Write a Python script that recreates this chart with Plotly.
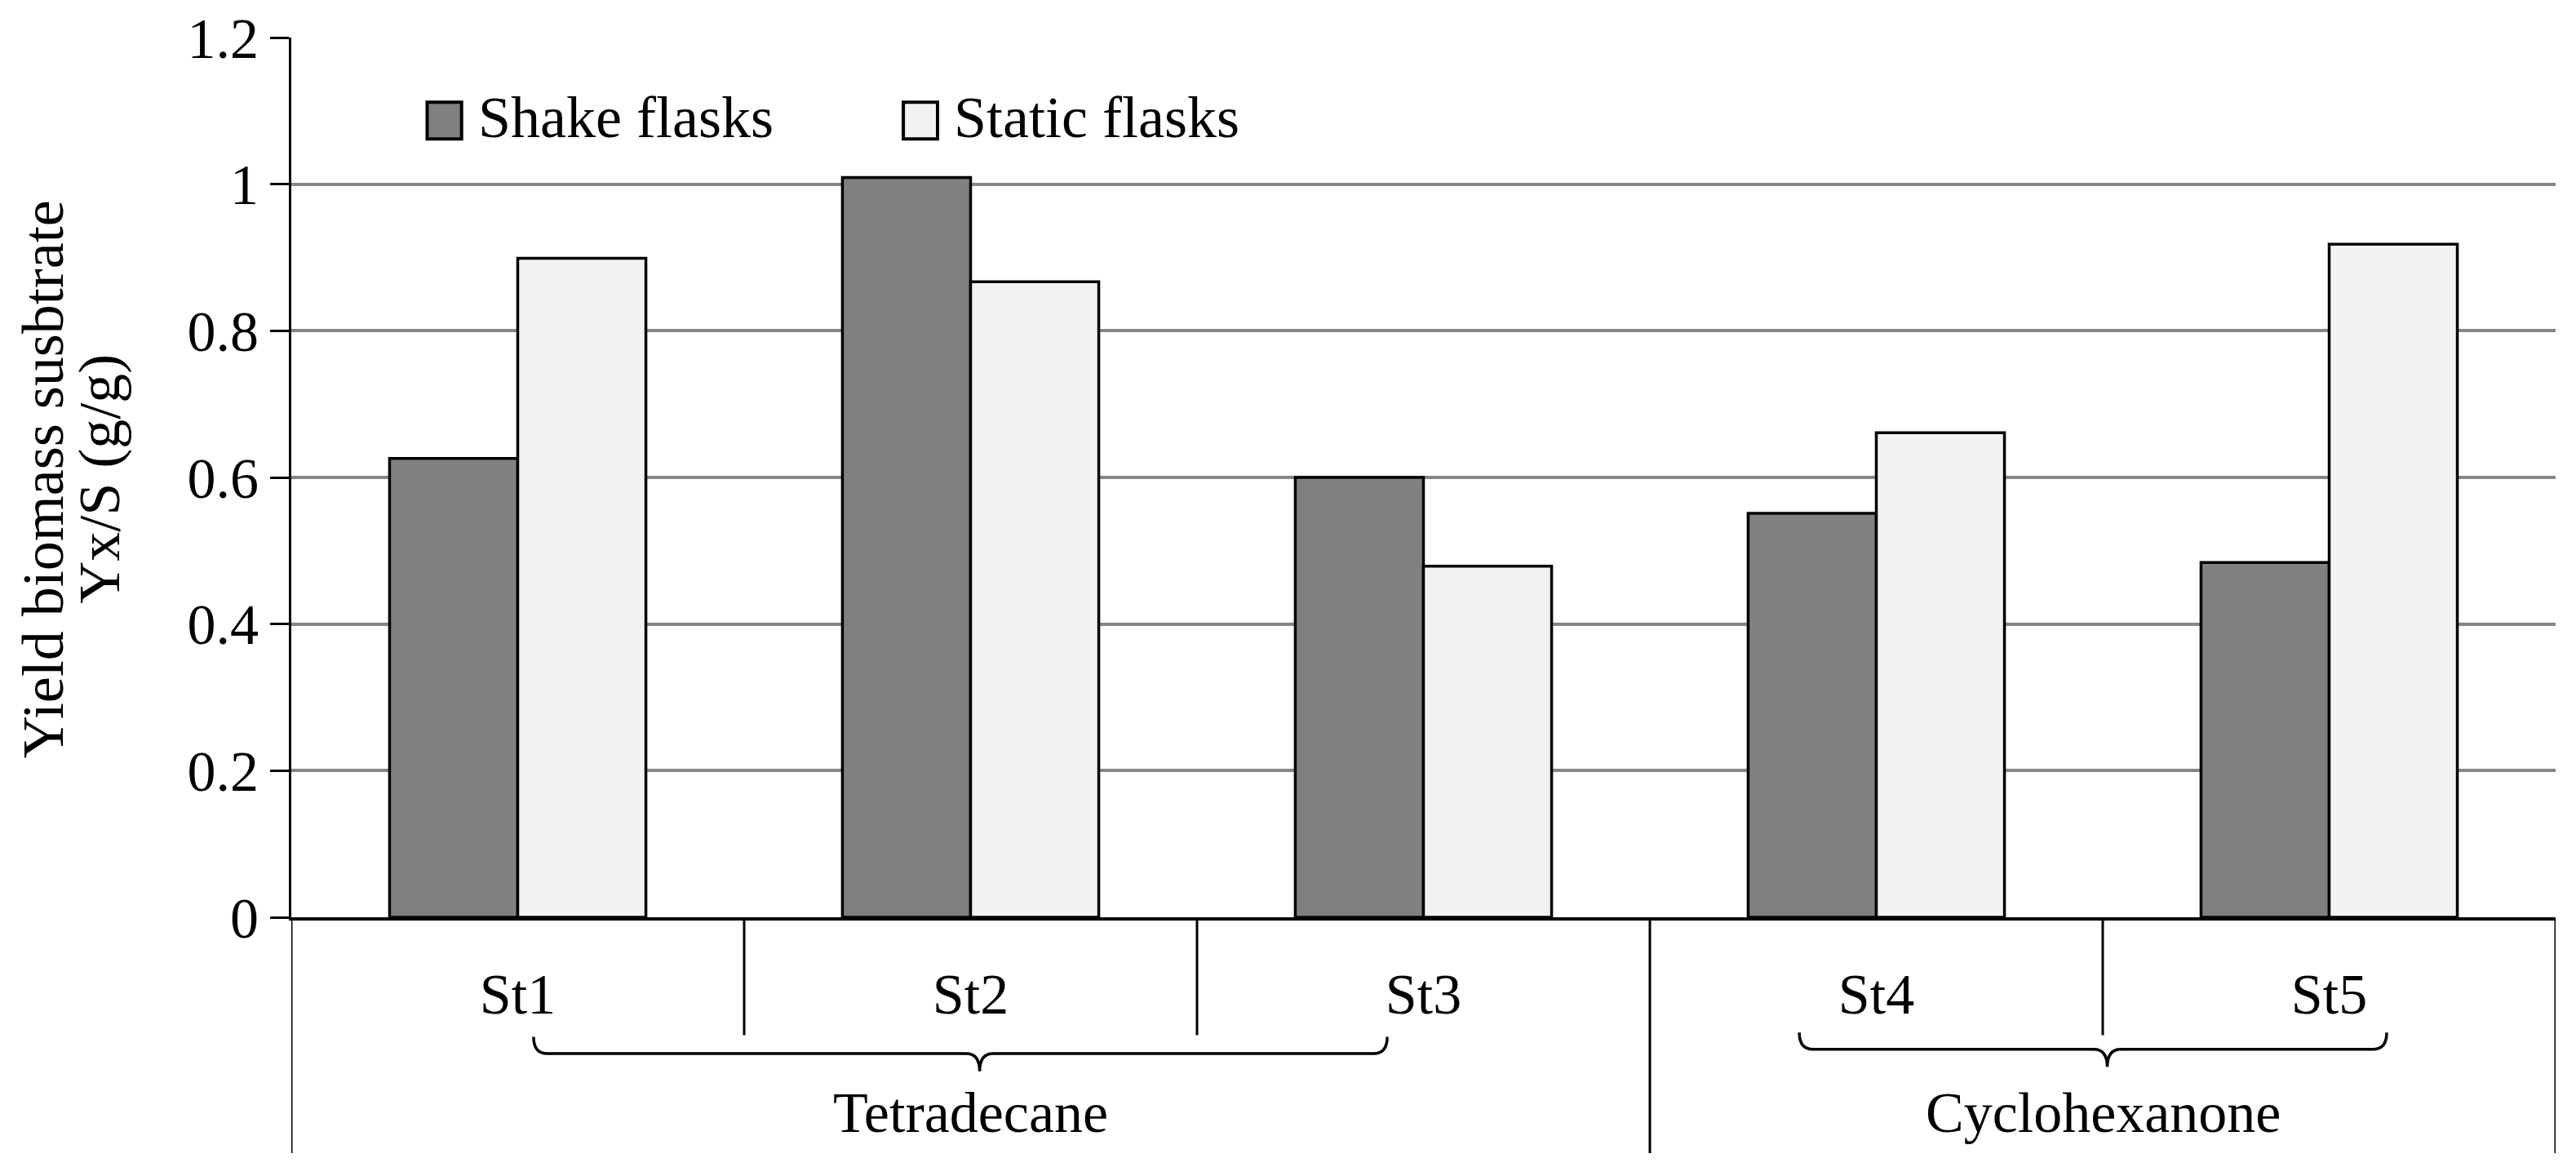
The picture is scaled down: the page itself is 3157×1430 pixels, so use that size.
import plotly.graph_objects as go

# ---- data ----
strains = ["St1", "St2", "St3", "St4", "St5"]
series_names = ["Shake flasks", "Static flasks"]
shake = [0.626, 1.009, 0.600, 0.551, 0.484]
static = [0.899, 0.867, 0.479, 0.661, 0.918]
groups = ["Tetradecane", "Cyclohexanone"]
group_centers = [1.0, 3.5]          # category-index position of group label
group_spans = [(0.035, 1.92, 1.02), (2.83, 4.127, 3.51)]   # brace left, right, tip
y_ticks = [0, 0.2, 0.4, 0.6, 0.8, 1.0, 1.2]
y_ticktext = ["0", "0.2", "0.4", "0.6", "0.8", "1", "1.2"]
y_title_lines = ["Yield biomass susbtrate", "Yx/S (g/g)"]

colors = ["#808080", "#F2F2F2"]
FONT = "Liberation Serif"
FS = 70

fig = go.Figure()
for name, vals, col in zip(series_names, [shake, static], colors):
    fig.add_trace(go.Bar(
        x=strains, y=vals, name=name,
        marker=dict(color=col, line=dict(color="black", width=3.5)),
        showlegend=False,
    ))

shapes = []
# table-like separators below the axis
n = len(strains)
outer = {-0.5, 2.5, n - 0.5}
for i in range(n + 1):
    xb = i - 0.5
    shapes.append(dict(type="line", xref="x", yref="paper",
                       x0=xb, x1=xb, y0=0, y1=(-0.268 if xb in outer else -0.134),
                       line=dict(color="black", width=3), layer="above"))

# braces
def brace(x0, x1, xt, ytop, ymid, ytip, c=0.03):
    return (f"M {x0},{ytop} Q {x0},{ymid} {x0+c},{ymid} "
            f"L {xt-c},{ymid} Q {xt},{ymid} {xt},{ytip} "
            f"Q {xt},{ymid} {xt+c},{ymid} L {x1-c},{ymid} "
            f"Q {x1},{ymid} {x1},{ytop}")

brace_y = [(-0.136, -0.155, -0.175), (-0.131, -0.150, -0.170)]
for (x0, x1, xt), (yt, ym, yp) in zip(group_spans, brace_y):
    shapes.append(dict(type="path", xref="x", yref="paper",
                       path=brace(x0, x1, xt, yt, ym, yp),
                       line=dict(color="black", width=3.5)))

# custom legend boxes
leg_boxes = [(0.060, 0.0752), (0.2703, 0.2854)]
for (bx0, bx1), col in zip(leg_boxes, colors):
    shapes.append(dict(type="rect", xref="paper", yref="paper",
                       x0=bx0, x1=bx1, y0=0.8847, y1=0.9265,
                       fillcolor=col, line=dict(color="black", width=4)))

annotations = []
for (bx0, bx1), name in zip(leg_boxes, series_names):
    annotations.append(dict(xref="paper", yref="paper", x=bx1 + 0.0065, y=0.909,
                            text=name, showarrow=False, xanchor="left", yanchor="middle",
                            font=dict(family=FONT, size=FS + 2, color="black")))
for gx, g in zip(group_centers, groups):
    annotations.append(dict(xref="x", yref="paper", x=gx, y=-0.222,
                            text=g, showarrow=False, xanchor="center", yanchor="middle",
                            font=dict(family=FONT, size=FS, color="black")))
# y-axis title (two lines, tighter spacing than the default line height)
for tx, line in zip([-0.1095, -0.0845], y_title_lines):
    annotations.append(dict(xref="paper", yref="paper", x=tx, y=0.498,
                            text=line, textangle=-90, showarrow=False,
                            xanchor="center", yanchor="middle",
                            font=dict(family=FONT, size=FS + 2, color="black")))

fig.update_layout(
    width=3149, height=1422,
    margin=dict(l=349, r=25, t=38, b=306, autoexpand=False),
    paper_bgcolor="white", plot_bgcolor="white",
    barmode="group", bargap=0.434, bargroupgap=0,
    font=dict(family=FONT, size=FS, color="black"),
    shapes=shapes, annotations=annotations,
    xaxis=dict(
        automargin=False,
        showline=True, linecolor="black", linewidth=4,
        ticks="", showgrid=False, ticklabelstandoff=30,
        tickfont=dict(family=FONT, size=FS, color="black"),
        range=[-0.5, n - 0.5],
    ),
    yaxis=dict(
        automargin=False,
        range=[0, 1.2], tickvals=y_ticks, ticktext=y_ticktext,
        showgrid=True, gridcolor="#868686", gridwidth=4,
        zeroline=False, showline=True, linecolor="black", linewidth=3,
        ticks="outside", ticklen=23, tickwidth=3, tickcolor="black",
        tickfont=dict(family=FONT, size=FS, color="black"),
    ),
)

fig.write_html("out.html")
